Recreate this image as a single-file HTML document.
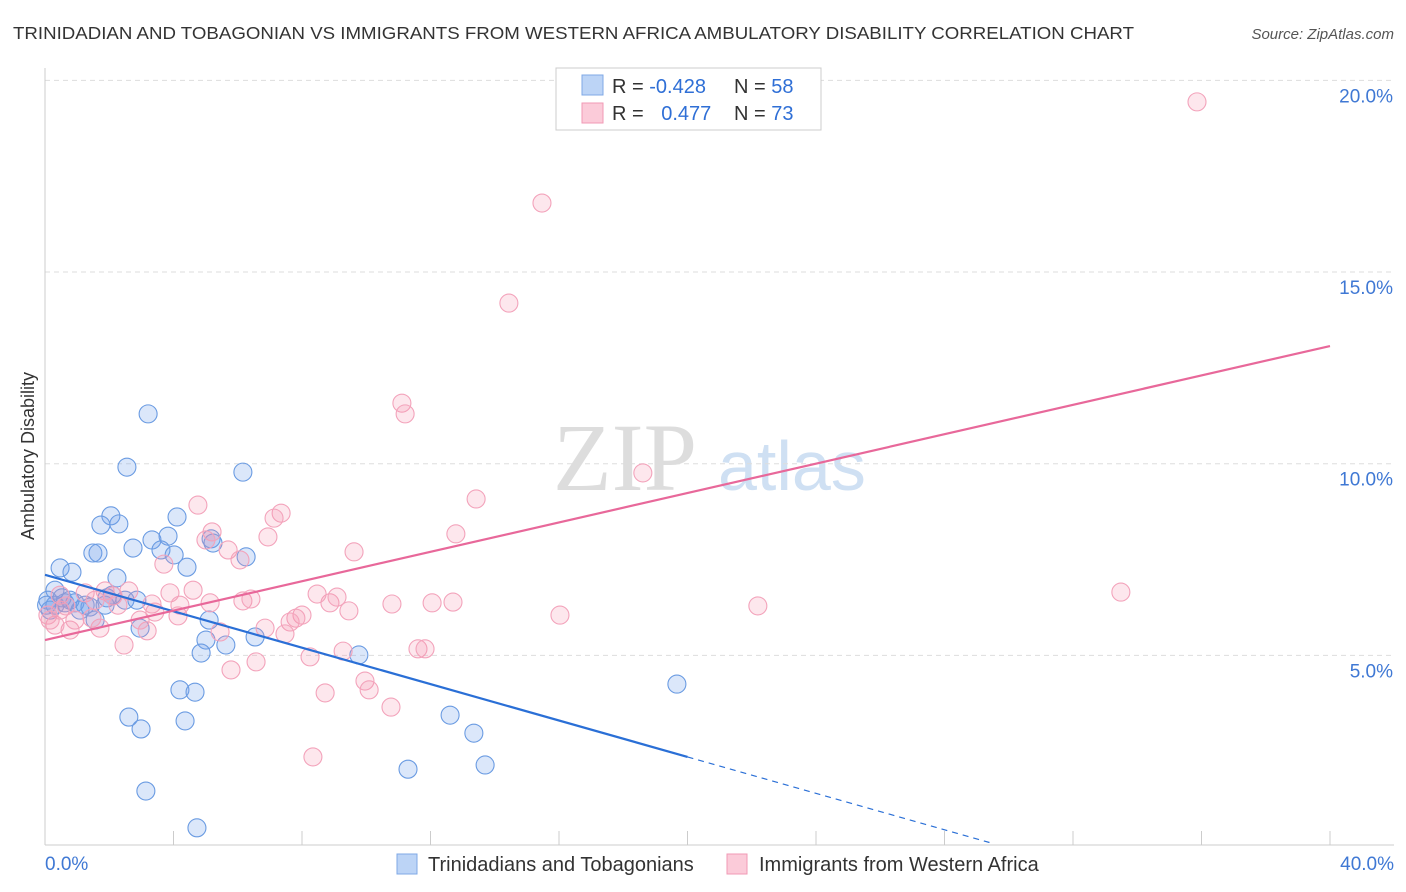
<!DOCTYPE html>
<html><head><meta charset="utf-8"><style>
body{margin:0;background:#fff;font-family:"Liberation Sans",sans-serif;}
</style></head><body>
<svg id="chart" width="1406" height="892" xmlns="http://www.w3.org/2000/svg" style="display:block">
<text x="13" y="39" font-size="17.5" fill="#333" textLength="1121" lengthAdjust="spacingAndGlyphs">TRINIDADIAN AND TOBAGONIAN VS IMMIGRANTS FROM WESTERN AFRICA AMBULATORY DISABILITY CORRELATION CHART</text>
<text x="1394" y="39" font-size="15" fill="#555" font-style="italic" text-anchor="end">Source: ZipAtlas.com</text>
<g>
<text x="553" y="490" font-size="96" font-family="Liberation Serif,serif" fill="#ddd">ZIP</text>
<text x="718" y="490" font-size="70" fill="#cfe0f3">atlas</text>
</g>
<g id="grid"></g>
<g id="axes"></g>
<g id="pts"></g>
<g id="lines"></g>
<text transform="translate(34,456) rotate(-90)" font-size="18" fill="#333" text-anchor="middle">Ambulatory Disability</text>
<g>
<rect x="556" y="68" width="265" height="62" fill="#fff" stroke="#ccc"/>
<rect x="582" y="75" width="21" height="20" fill="#bcd4f6" stroke="#7fa8e6"/>
<rect x="582" y="103" width="21" height="20" fill="#fbcbd9" stroke="#f09ab5"/>
<text x="612" y="93" font-size="20" fill="#333">R = <tspan fill="#2f6fd6">-0.428</tspan></text>
<text x="734" y="93" font-size="20" fill="#333">N = <tspan fill="#2f6fd6">58</tspan></text>
<text x="612" y="120" font-size="20" fill="#333">R = <tspan fill="#2f6fd6" dx="12">0.477</tspan></text>
<text x="734" y="120" font-size="20" fill="#333">N = <tspan fill="#2f6fd6">73</tspan></text>
</g>
<g>
<rect x="397" y="854" width="20" height="20" fill="#bcd4f6" stroke="#7fa8e6"/>
<text x="428" y="871" font-size="20" fill="#333">Trinidadians and Tobagonians</text>
</g>
<g>
<rect x="727" y="854" width="20" height="20" fill="#fbcbd9" stroke="#f09ab5"/>
<text x="759" y="871" font-size="20" fill="#333">Immigrants from Western Africa</text>
</g>
</svg>
<script>
const blueX=[3.21,2.55,6.16,2.05,4.11,1.74,2.30,1.49,1.65,2.74,3.33,3.83,3.61,4.02,4.42,5.17,5.23,6.26,0.47,0.84,2.24,0.31,0.09,0.31,0.62,0.93,1.25,1.40,1.87,2.09,2.49,2.86,1.93,1.09,1.56,2.96,5.11,5.01,5.63,4.86,6.54,9.77,4.20,4.67,2.61,2.99,4.36,12.61,13.35,19.67,11.30,13.70,3.14,4.73,0.16,0.53,0.05,0.78];
const blueY=[11.30,9.91,9.78,8.64,8.61,8.40,8.43,7.67,7.67,7.80,8.01,8.11,7.75,7.62,7.30,8.04,7.93,7.57,7.28,7.17,7.02,6.70,6.44,6.31,6.37,6.37,6.31,6.26,6.31,6.57,6.44,6.44,6.50,6.18,5.92,5.71,5.92,5.40,5.27,5.06,5.48,5.01,4.10,4.04,3.39,3.08,3.29,3.44,2.97,4.25,2.03,2.14,1.46,0.50,6.18,6.50,6.31,6.44];
const pinkX=[35.86,15.47,14.44,11.11,11.21,18.61,13.42,4.76,7.35,7.13,5.20,5.01,6.94,5.70,6.07,3.70,9.62,12.79,22.19,33.49,4.61,3.89,2.61,1.87,2.12,1.25,0.47,4.20,5.14,6.16,6.41,3.33,4.14,3.42,2.27,8.87,9.09,8.47,9.46,10.80,12.05,12.70,16.03,8.00,7.81,7.63,6.85,5.45,3.18,1.71,0.78,0.31,0.09,0.47,2.46,7.47,8.25,9.28,11.61,11.83,6.57,5.79,9.96,10.09,8.72,10.77,8.34,0.93,0.16,1.46,2.96,0.65,1.56];
const pinkY=[19.44,16.80,14.19,11.58,11.30,9.76,9.08,8.92,8.71,8.58,8.22,8.01,8.09,7.75,7.49,7.38,7.70,8.17,6.29,6.65,6.70,6.63,6.68,6.68,6.55,6.63,6.57,6.31,6.37,6.42,6.47,6.34,6.03,6.13,6.31,6.37,6.52,6.60,6.16,6.34,6.37,6.39,6.05,6.05,5.97,5.87,5.71,5.61,5.64,5.71,5.66,5.79,6.05,6.18,5.27,5.56,4.96,5.11,5.17,5.17,4.83,4.62,4.33,4.10,4.02,3.65,2.35,5.92,5.92,5.97,5.92,6.29,6.44];
const yTicks=[5,10,15,20];
const yTickLabels=["5.0%","10.0%","15.0%","20.0%"];
const xTicks=[0,4,8,12,16,20,24,28,32,36,40];
const blueFit=[7.10,-0.2375];
const pinkFit=[5.40,0.19175];
const NS="http://www.w3.org/2000/svg";
const sx=v=>45+v*32.125, sy=v=>847-v*38.33;
function mk(tag,attrs,parent){const e=document.createElementNS(NS,tag);for(const k in attrs)e.setAttribute(k,attrs[k]);document.getElementById(parent).appendChild(e);return e;}
yTicks.forEach((t,i)=>{
  const g=mk('line',{x1:45,x2:1394,y1:sy(t),y2:sy(t),stroke:'#ddd','stroke-dasharray':'5,4'},'grid');
  
  
  const l=mk('text',{x:1393,y:sy(t)+22,'font-size':19,fill:'#3f78d4','text-anchor':'end'},'grid');
  l.textContent=yTickLabels[i];
  
  
});
const ax=mk('line',{x1:45,x2:45,y1:68,y2:845,stroke:'#ccc'},'axes');


const bx=mk('line',{x1:45,x2:1394,y1:845,y2:845,stroke:'#ccc'},'axes');


xTicks.forEach(t=>{
  const k=mk('line',{x1:sx(t),x2:sx(t),y1:831,y2:845,stroke:'#ccc'},'axes');
  
  
});
const x0=mk('text',{x:45,y:870,'font-size':19,fill:'#3f78d4'},'axes');x0.textContent='0.0%';


const x1=mk('text',{x:1394,y:870,'font-size':19,fill:'#3f78d4','text-anchor':'end'},'axes');x1.textContent='40.0%';


blueX.forEach((v,i)=>{
  const c=mk('circle',{cx:sx(v),cy:sy(blueY[i]),r:9,fill:'rgba(110,160,235,0.25)',stroke:'#6a9be2','stroke-width':1.1},'pts');
  
  
});
pinkX.forEach((v,i)=>{
  const c=mk('circle',{cx:sx(v),cy:sy(pinkY[i]),r:9,fill:'rgba(245,145,175,0.22)',stroke:'#f3a3bb','stroke-width':1.1},'pts');
  
  
});
const bf=x=>blueFit[0]+blueFit[1]*x, pf=x=>pinkFit[0]+pinkFit[1]*x;
const b1=mk('line',{x1:sx(0),y1:sy(bf(0)),x2:sx(20),y2:sy(bf(20)),stroke:'#2a6fd6','stroke-width':2.2},'lines');


const b2=mk('line',{x1:sx(20),y1:sy(bf(20)),x2:sx(29.4),y2:sy(bf(29.4)),stroke:'#2a6fd6','stroke-width':1.2,'stroke-dasharray':'6,5'},'lines');


const p1=mk('line',{x1:sx(0),y1:sy(pf(0)),x2:sx(40),y2:sy(pf(40)),stroke:'#e8689a','stroke-width':2.2},'lines');


</script>
</body></html>
